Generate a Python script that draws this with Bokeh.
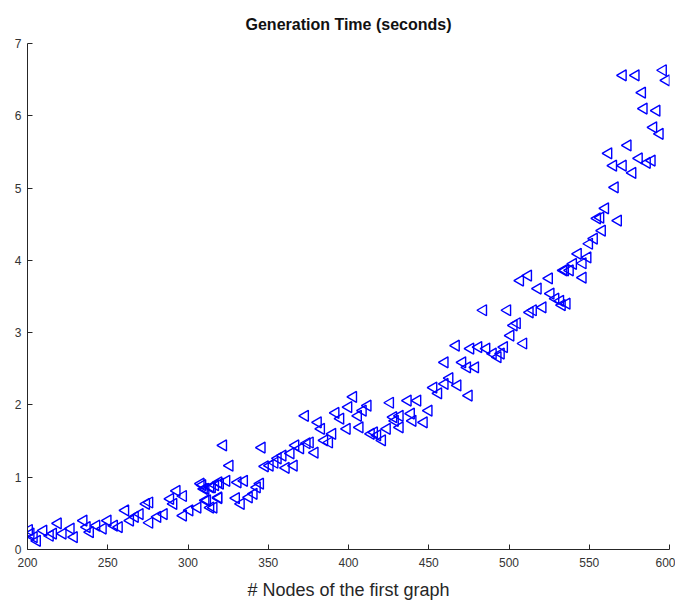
import math
from bokeh.plotting import figure
from bokeh.models import FixedTicker, Range1d
from bokeh.embed import file_html
from bokeh.resources import INLINE

nodes = [201, 202, 204, 206, 210, 214, 219, 216, 222, 227, 229, 235, 237, 239, 243, 247, 250, 254, 257,
         261, 264, 267, 270, 274, 276, 276, 281, 285, 289, 291, 293, 297, 297, 301, 306, 308, 310, 312,
         315, 316, 319, 319,
         322, 346, 326, 309, 311, 314, 317, 320, 324, 311, 314, 319, 330, 333, 331, 335, 338, 341, 343,
         345, 348, 351, 354, 356, 359, 361, 364, 366, 367, 370, 373, 374, 376, 379, 381, 383, 385, 388,
         390, 392, 395, 399, 400, 403, 406, 407, 409, 412, 414, 416, 418, 421, 424, 426, 428,
         437, 443, 429, 432, 439, 440, 447, 450, 432, 453, 456, 460, 463, 468, 475, 460, 467, 471, 474,
         479, 476, 481, 484, 486, 490, 493, 495, 497, 499, 501, 503, 505, 509, 507, 512, 513, 515, 518,
         521, 525, 526, 529, 532, 533, 534, 536, 538, 540, 543,
         571, 579, 596, 598, 583, 584, 592, 590, 594, 574, 562, 565, 571, 577, 581, 586, 589, 566, 560,
         555, 557, 568, 558, 553, 550, 549, 546, 535, 546]
gen_time = [0.27, 0.22, 0.17, 0.12, 0.26, 0.19, 0.36, 0.22, 0.22, 0.29, 0.17, 0.40, 0.31, 0.24, 0.33, 0.29, 0.40, 0.33, 0.31,
            0.54, 0.40, 0.45, 0.49, 0.63, 0.65, 0.37, 0.45, 0.49, 0.70, 0.63, 0.81, 0.74, 0.47, 0.54, 0.58, 0.91, 0.84, 0.68,
            0.86, 0.58, 0.93, 0.71,
            1.44, 1.41, 1.16, 0.89, 0.84, 0.86, 0.89, 0.91, 0.95, 0.68, 0.58, 0.72, 0.71, 0.63, 0.93, 0.95, 0.72, 0.77, 0.86,
            0.91, 1.15, 1.16, 1.20, 1.26, 1.30, 1.13, 1.33, 1.16, 1.44, 1.40, 1.85, 1.47, 1.48, 1.34, 1.76, 1.67, 1.51, 1.48,
            1.60, 1.89, 1.81, 1.67, 1.97, 2.11, 1.85, 1.69, 1.92, 1.99, 1.60, 1.62, 1.58, 1.51, 1.67, 2.03, 1.83,
            2.06, 2.06, 1.78, 1.85, 1.88, 1.78, 1.76, 1.92, 1.69, 2.24, 2.16, 2.29, 2.37, 2.27, 2.13, 2.59, 2.82, 2.59, 2.52,
            2.52, 2.78, 2.80, 3.31, 2.78, 2.71, 2.66, 2.71, 2.80, 3.31, 2.96, 3.10, 3.13, 2.85, 3.72, 3.79, 3.28, 3.31, 3.61,
            3.35, 3.75, 3.54, 3.47, 3.44, 3.38, 3.86, 3.40, 3.86, 3.95, 4.09,
            6.56, 6.56, 6.63, 6.49, 6.32, 6.10, 6.07, 5.84, 5.75, 5.59, 5.48, 5.31, 5.31, 5.21, 5.41, 5.35, 5.38, 5.01, 4.72,
            4.58, 4.59, 4.55, 4.41, 4.30, 4.23, 4.04, 3.96, 3.86, 3.76]

x_ticks = [200, 250, 300, 350, 400, 450, 500, 550, 600]
y_ticks = [0, 1, 2, 3, 4, 5, 6, 7]

FONT = "Liberation Sans"

p = figure(width=675, height=603, output_backend="svg", toolbar_location=None,
           x_range=Range1d(200, 600), y_range=Range1d(0, 7),
           title="Generation Time (seconds)",
           min_border_left=27, min_border_right=6, min_border_top=43, min_border_bottom=54)

p.outline_line_color = None
p.grid.visible = False
p.background_fill_color = "white"
p.border_fill_color = "white"

p.title.align = "center"
p.title.text_font = FONT
p.title.text_font_size = "16px"
p.title.text_font_style = "bold"
p.title.text_color = "#111111"
p.title.offset = 0
p.title.standoff = 22

for ax in (p.xaxis[0], p.yaxis[0]):
    ax.axis_line_color = "#262626"
    ax.axis_line_width = 1
    ax.major_tick_line_color = "#262626"
    ax.major_tick_in = 5
    ax.major_tick_out = 0
    ax.minor_tick_line_color = None
    ax.major_label_text_font = FONT
    ax.major_label_text_font_size = "12px"
    ax.major_label_text_color = "#333333"

p.xaxis.ticker = FixedTicker(ticks=x_ticks)
p.yaxis.ticker = FixedTicker(ticks=y_ticks)
p.xaxis.major_label_standoff = 8
p.yaxis.major_label_standoff = 6
p.xaxis.axis_label = "# Nodes of the first graph"
p.xaxis.axis_label_text_font = FONT
p.xaxis.axis_label_text_font_size = "18px"
p.xaxis.axis_label_text_font_style = "normal"
p.xaxis.axis_label_text_color = "#262626"
p.xaxis.axis_label_standoff = 10

p.scatter(nodes, gen_time, marker="triangle", angle=math.pi / 2, size=11,
          line_color="#0000ff", line_width=1.4, fill_color=None)

open("out.html", "w").write(file_html(p, INLINE))
